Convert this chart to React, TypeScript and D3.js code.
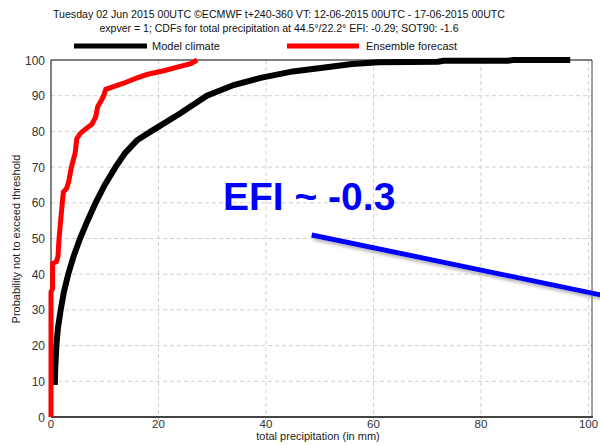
import React from 'react';
import * as d3 from 'd3';

// precipitation (mm) and probability (%) for the two CDFs
const climateMm = [0.7, 0.8, 1.0, 1.3, 1.8, 2.4, 3.2, 4.2, 5.4, 6.8, 8.3, 10, 12, 13.8, 16, 18.6, 24, 29, 34, 39, 45, 52, 56, 61, 72, 73, 85, 86, 96.6];
const climateProb = [9, 14, 20, 25, 30, 35, 40, 45, 50, 55, 60, 65, 70, 74, 77.5, 80, 85, 90, 93, 95, 96.8, 98.1, 98.9, 99.4, 99.5, 99.8, 99.8, 100, 100];

const ensembleMm = [0, 0, 0.3, 0.3, 1.0, 1.3, 1.5, 1.8, 2.1, 2.3, 2.9, 3.3, 3.8, 4.5, 4.8, 5.5, 6.3, 7.6, 8.3, 8.7, 9.3, 9.8, 10.2, 11.5, 13.5, 16, 18, 21, 23.5, 26, 27.2];
const ensembleProb = [0, 35, 36, 43, 43.5, 45, 50, 55, 60, 63, 64, 66, 70, 74, 78, 79.5, 80.5, 82, 84, 87, 88.5, 90, 91.8, 92.5, 93.5, 95, 96, 97, 98, 99, 100];

const xTicks = [0, 20, 40, 60, 80, 100];
const yTicks = [0, 10, 20, 30, 40, 50, 60, 70, 80, 90, 100];

const titleLines = [
  'Tuesday 02 Jun 2015 00UTC \u00a9ECMWF t+240-360 VT: 12-06-2015 00UTC - 17-06-2015 00UTC',
  'expver = 1; CDFs for total precipitation at 44.5\u00b0/22.2\u00b0  EFI: -0.29; SOT90: -1.6',
];

// annotation arrow in data units [mm, %]
const arrowFrom = [48.5, 51];
const arrowTo = [102.2, 34.2];
const annotationAt = [32, 58];

const App = () => {
  const left = 51, right = 592, top = 60, bottom = 417;
  const x = d3.scaleLinear().domain([0, 100.65]).range([left, right]);
  const y = d3.scaleLinear().domain([0, 100]).range([bottom, top]);

  const line = d3.line<[number, number]>()
    .x(d => x(d[0]))
    .y(d => y(d[1]));

  const climate = climateMm.map((m, i) => [m, climateProb[i]] as [number, number]);
  const ensemble = ensembleMm.map((m, i) => [m, ensembleProb[i]] as [number, number]);

  const font = 'Liberation Sans, Arial, sans-serif';

  return (
    <svg width={600} height={445} style={{ position: 'absolute', left: 0, top: 0, background: '#fff' }} fontFamily={font}>
      <defs>
        <filter id="shadow" x="-10%" y="-50%" width="130%" height="300%">
          <feDropShadow dx="2" dy="3" stdDeviation="1.5" floodColor="#777" floodOpacity="0.5" />
        </filter>
        <clipPath id="plot">
          <rect x={0} y={top - 10} width={600} height={bottom - top + 14} />
        </clipPath>
      </defs>

      {/* title */}
      <text x={279} y={18} fontSize={11} fill="#111" textLength={452} lengthAdjust="spacingAndGlyphs" textAnchor="middle">{titleLines[0]}</text>
      <text x={279} y={32} fontSize={11} fill="#111" textLength={359} lengthAdjust="spacingAndGlyphs" textAnchor="middle">{titleLines[1]}</text>

      {/* legend */}
      <line x1={74} x2={147} y1={46} y2={46} stroke="#000" strokeWidth={5} />
      <text x={152} y={50} fontSize={11} fill="#111">Model climate</text>
      <line x1={287} x2={359} y1={46} y2={46} stroke="#f00" strokeWidth={5} />
      <text x={366} y={50} fontSize={11} fill="#111">Ensemble forecast</text>

      {/* grid */}
      {xTicks.filter(t => t > 0).map(t => (
        <line key={'gx' + t} x1={x(t)} x2={x(t)} y1={top} y2={bottom + 8} stroke="#d0d0d0" strokeDasharray="4,3" />
      ))}
      {yTicks.filter(t => t > 0 && t < 100).map(t => (
        <line key={'gy' + t} x1={left} x2={right} y1={y(t)} y2={y(t)} stroke="#d0d0d0" strokeDasharray="4,3" />
      ))}

      {/* frame */}
      <line x1={left} x2={right} y1={top} y2={top} stroke="#000" strokeWidth={1} />
      <line x1={right} x2={right} y1={top} y2={bottom} stroke="#444" strokeWidth={1} />
      <line x1={left} x2={left} y1={top} y2={bottom} stroke="#000" strokeWidth={1} />
      <line x1={left} x2={right + 1} y1={bottom} y2={bottom} stroke="#444" strokeWidth={2} />

      {/* ticks */}
      {yTicks.map(t => (
        <text key={'ty' + t} x={45} y={y(t) + 4.5} fontSize={12} fill="#333" textAnchor="end">{t}</text>
      ))}
      {xTicks.map(t => (
        <text key={'tx' + t} x={x(t)} y={427.5} fontSize={11.5} fill="#333" textAnchor="middle">{t}</text>
      ))}

      {/* axis titles */}
      <text transform={`translate(20,239) rotate(-90)`} fontSize={11} fill="#222" textAnchor="middle">Probability not to exceed threshold</text>
      <text x={318} y={440} fontSize={11} fill="#222" textAnchor="middle">total precipitation  (in mm)</text>

      {/* curves */}
      <g clipPath="url(#plot)">
        <path d={line(climate) || ''} fill="none" stroke="#000" strokeWidth={6} />
        <path d={line(ensemble) || ''} fill="none" stroke="#f00" strokeWidth={5} />
      </g>

      {/* annotation */}
      <text x={x(annotationAt[0])} y={y(annotationAt[1])} fontSize={39} fontWeight="bold" fill="#0000ff">EFI ~ -0.3</text>
      <line x1={x(arrowFrom[0])} y1={y(arrowFrom[1])} x2={x(arrowTo[0])} y2={y(arrowTo[1])} stroke="#0000ff" strokeWidth={5} filter="url(#shadow)" />
    </svg>
  );
};

export default App;
